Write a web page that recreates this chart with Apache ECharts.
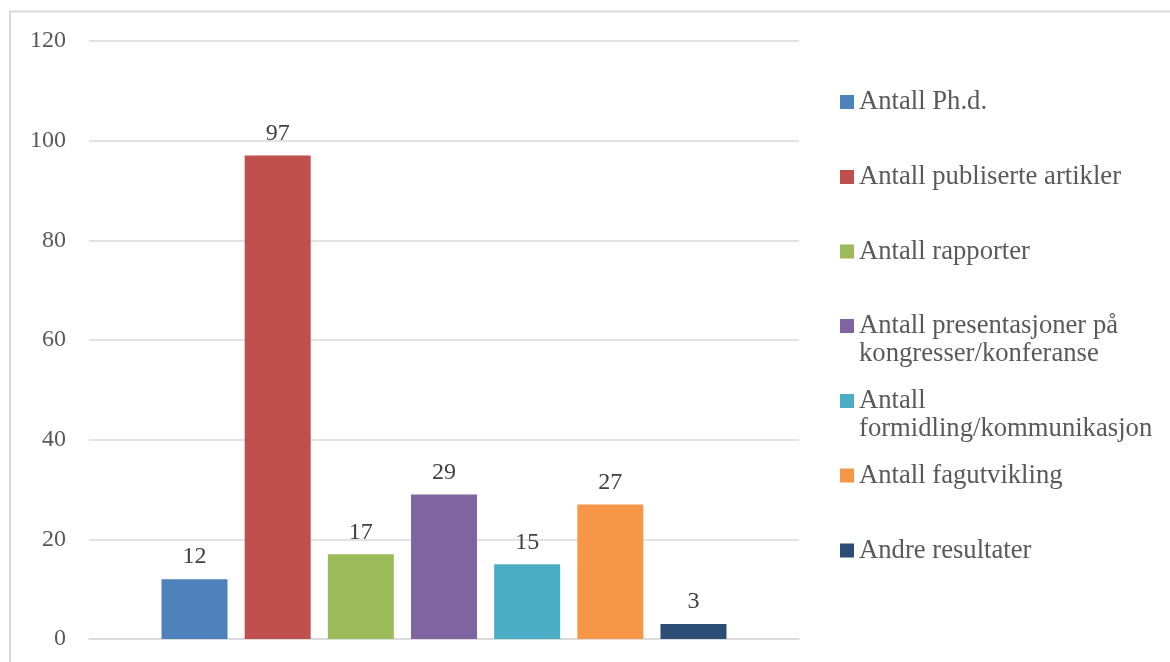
<!DOCTYPE html>
<html>
<head>
<meta charset="utf-8">
<script src="https://cdn.jsdelivr.net/npm/echarts@6/dist/echarts.min.js"></script>
<style>
html,body{margin:0;padding:0;background:#fff;}
#chart{width:1170px;height:662px;}
</style>
</head>
<body>
<div id="chart"></div>
<script>
var categories = [''];
var seriesNames = ['Antall Ph.d.', 'Antall publiserte artikler', 'Antall rapporter', 'Antall presentasjoner på kongresser/konferanse', 'Antall formidling/kommunikasjon', 'Antall fagutvikling', 'Andre resultater'];
var legendLabels = ['Antall Ph.d.', 'Antall publiserte artikler', 'Antall rapporter', 'Antall presentasjoner på\nkongresser/konferanse', 'Antall\nformidling/kommunikasjon', 'Antall fagutvikling', 'Andre resultater'];
var seriesValues = [12, 97, 17, 29, 15, 27, 3];
var colors = ['#4F81BD', '#C0504D', '#9BBB59', '#8064A2', '#4BACC6', '#F79646', '#2C4D75'];
var yTicks = { min: 0, max: 120, interval: 20 };

var chart = echarts.init(document.getElementById('chart'));

var legendCenters = [102, 177, 251.5, 326, 401, 475.5, 550.5];
var lineH = 28;
var legends = seriesNames.map(function (name, i) {
  var twoLine = legendLabels[i].indexOf('\n') >= 0;
  return {
    show: true,
    orient: 'vertical',
    left: 840,
    top: legendCenters[i] - (twoLine ? lineH * 1.5 : lineH / 2),
    itemWidth: 14,
    itemHeight: 14,
    icon: 'rect',
    padding: 0,
    selectedMode: false,
    data: [name],
    formatter: function () { return twoLine ? '\n' + legendLabels[i] : legendLabels[i]; },
    textStyle: {
      fontFamily: 'Liberation Serif',
      fontSize: 26.67,
      lineHeight: lineH,
      color: '#595959'
    }
  };
});

var series = seriesNames.map(function (name, i) {
  return {
    name: name,
    type: 'bar',
    data: [seriesValues[i]],
    barWidth: 66,
    barGap: '26%',
    itemStyle: { color: colors[i] },
    label: {
      show: true,
      position: 'top',
      distance: 10,
      fontFamily: 'Liberation Serif',
      fontSize: 24,
      color: '#404040'
    }
  };
});

chart.setOption({
  animation: false,
  backgroundColor: '#ffffff',
  color: colors,
  legend: legends,
  graphic: [{
    type: 'rect',
    silent: true,
    shape: { x: 10, y: 11.5, width: 1200, height: 700 },
    style: { fill: 'none', stroke: '#D9D9D9', lineWidth: 2 }
  }],
  grid: { left: 89, right: 371, top: 41, bottom: 23, containLabel: false },
  xAxis: {
    type: 'category',
    data: categories,
    axisLine: { show: true, lineStyle: { color: '#D9D9D9', width: 1.5 } },
    axisTick: { show: false },
    axisLabel: { show: false }
  },
  yAxis: {
    type: 'value',
    min: yTicks.min,
    max: yTicks.max,
    interval: yTicks.interval,
    axisLine: { show: false },
    axisTick: { show: false },
    splitLine: { lineStyle: { color: '#D9D9D9', width: 1.5 } },
    axisLabel: {
      margin: 23,
      fontFamily: 'Liberation Serif',
      fontSize: 24,
      color: '#595959'
    }
  },
  series: series
});
</script>
</body>
</html>
